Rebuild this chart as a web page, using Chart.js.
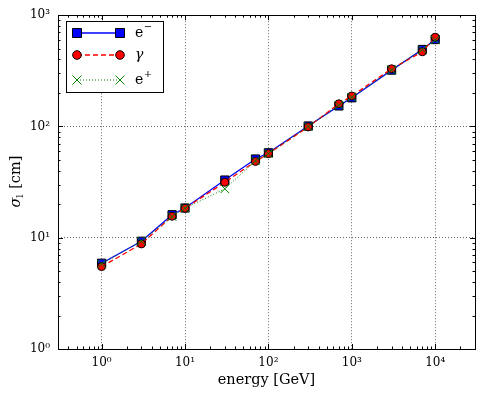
<!DOCTYPE html>
<html>
<head>
<meta charset="utf-8">
<script src="https://cdn.jsdelivr.net/npm/chart.js@4.4.0/dist/chart.umd.min.js"></script>
<style>
  html, body { margin: 0; padding: 0; background: #fff; }
  #wrap { width: 482px; height: 395px; }
</style>
</head>
<body>
<div id="wrap"><canvas id="chart"></canvas></div>
<script>
// data
const energies = [1, 3, 7, 10, 30, 70, 100, 300, 700, 1000, 3000, 7000, 10000];
const electron = [5.9, 9.3, 16.1, 18.5, 33, 51, 58, 101, 153, 181, 321, 492, 604];
const photon   = [5.5, 8.8, 15.6, 18.4, 31.5, 48.5, 57, 99, 160, 188, 330, 469, 634];
const positron = [5.8, 9.3, 15.5, 18.4, 27.5, 49, 57, 100, 155, 183, 322, 490, 600];
const xTicks = [1, 10, 100, 1000, 10000];
const yTicks = [1, 10, 100, 1000];
const legendBase = ["e", "γ", "e"];
const legendSup = ["−", "", "+"];

const SERIF = "'DejaVu Serif', serif";
const supDigits = { "0": "⁰", "1": "¹", "2": "²", "3": "³", "4": "⁴", "-": "⁻" };

function powLabel(v) {
  let e = Math.round(Math.log10(v));
  return "10" + String(e).split("").map(c => supDigits[c]).join("");
}

function pts(ys) {
  return energies.map((x, i) => ({ x: x, y: ys[i] }));
}

// frame, minor ticks, axis titles and legend
const decor = {
  id: "decor",
  afterDatasetsDraw(chart) {
    const ctx = chart.ctx;
    const a = chart.chartArea;
    const xs = chart.scales.x, ys = chart.scales.y;
    ctx.save();
    ctx.strokeStyle = "#000";
    ctx.lineWidth = 1;
    // ticks on all four sides, pointing in
    function ticksFor(scale, lo, hi, horiz) {
      for (let d = Math.floor(Math.log10(lo)); d <= Math.ceil(Math.log10(hi)); d++) {
        for (let m = 1; m < 10; m++) {
          let v = m * Math.pow(10, d);
          if (v < lo || v > hi) continue;
          let len = m == 1 ? 5 : 2.5;
          let p = Math.round(scale.getPixelForValue(v)) + 0.5;
          ctx.beginPath();
          if (horiz) {
            ctx.moveTo(p, a.bottom); ctx.lineTo(p, a.bottom - len);
            ctx.moveTo(p, a.top); ctx.lineTo(p, a.top + len);
          } else {
            ctx.moveTo(a.left, p); ctx.lineTo(a.left + len, p);
            ctx.moveTo(a.right, p); ctx.lineTo(a.right - len, p);
          }
          ctx.stroke();
        }
      }
    }
    ticksFor(xs, xs.min, xs.max, true);
    ticksFor(ys, ys.min, ys.max, false);
    ctx.strokeRect(Math.round(a.left) + 0.5, Math.round(a.top) + 0.5,
                   Math.round(a.right - a.left), Math.round(a.bottom - a.top));

    // axis titles
    ctx.fillStyle = "#000";
    ctx.font = "14.5px " + SERIF;
    ctx.textAlign = "center";
    ctx.textBaseline = "middle";
    ctx.fillText("energy [GeV]", (a.left + a.right) / 2, 380);

    ctx.save();
    ctx.translate(15, (a.top + a.bottom) / 2);
    ctx.rotate(-Math.PI / 2);
    ctx.textAlign = "left";
    ctx.textBaseline = "alphabetic";
    let w1 = ctx.measureText("σ").width;
    ctx.font = "10px " + SERIF;
    let w2 = ctx.measureText("l").width;
    ctx.font = "14.5px " + SERIF;
    let w3 = ctx.measureText(" [cm]").width;
    let x0 = -(w1 + w2 + w3) / 2;
    ctx.font = "italic 14.5px " + SERIF;
    ctx.fillText("σ", x0, 5);
    ctx.font = "10px " + SERIF;
    ctx.fillText("l", x0 + w1, 8);
    ctx.font = "14.5px " + SERIF;
    ctx.fillText(" [cm]", x0 + w1 + w2 + 1, 5);
    ctx.restore();

    // legend
    const lx = 66, ly = 21, lw = 97, lh = 71;
    ctx.fillStyle = "#fff";
    ctx.fillRect(lx, ly, lw, lh);
    ctx.strokeStyle = "#000";
    ctx.lineWidth = 1;
    ctx.strokeRect(lx + 0.5, ly + 0.5, lw, lh);
    const rows = [33, 55, 80];
    chart.data.datasets.forEach((ds, i) => {
      let y = rows[i];
      let x1 = 77, x2 = 120;
      ctx.save();
      ctx.strokeStyle = ds.borderColor;
      ctx.lineWidth = ds.borderWidth;
      ctx.setLineDash(ds.borderDash || []);
      ctx.beginPath();
      ctx.moveTo(x1, y); ctx.lineTo(x2, y);
      ctx.stroke();
      ctx.restore();
      [x1, x2].forEach(px => {
        ctx.save();
        ctx.fillStyle = ds.pointBackgroundColor;
        ctx.strokeStyle = ds.pointBorderColor;
        ctx.lineWidth = ds.pointBorderWidth;
        ctx.beginPath();
        if (ds.pointStyle == "rect") {
          ctx.rect(px - 4.5, y - 4.5, 9, 9);
          ctx.fill(); ctx.stroke();
        } else if (ds.pointStyle == "circle") {
          ctx.arc(px, y, 4.3, 0, Math.PI * 2);
          ctx.fill(); ctx.stroke();
        } else {
          ctx.moveTo(px - 4.5, y - 4.5); ctx.lineTo(px + 4.5, y + 4.5);
          ctx.moveTo(px - 4.5, y + 4.5); ctx.lineTo(px + 4.5, y - 4.5);
          ctx.stroke();
        }
        ctx.restore();
      });
      ctx.fillStyle = "#000";
      ctx.textAlign = "left";
      ctx.textBaseline = "alphabetic";
      ctx.font = (i == 1 ? "italic " : "") + "14px " + SERIF;
      ctx.fillText(legendBase[i], 135, y + 4);
      let bw = ctx.measureText(legendBase[i]).width;
      ctx.font = "10px " + SERIF;
      ctx.fillText(legendSup[i], 135 + bw + 0.5, y - 3);
    });
    ctx.restore();
  }
};

function gridStyle() {
  return {
    color: "rgba(0,0,0,0.6)",
    lineWidth: 1,
    drawTicks: false,
    borderDash: [1, 2],
    tickBorderDash: [1, 2]
  };
}
function borderStyle() {
  return { display: true, color: "rgba(0,0,0,0)", width: 0, dash: [1, 2] };
}

new Chart(document.getElementById("chart"), {
  type: "line",
  data: {
    datasets: [
      {
        label: "e−",
        data: pts(electron),
        borderColor: "#0000ff",
        borderWidth: 1.3,
        pointStyle: "rect",
        pointRadius: 5.8,
        pointBackgroundColor: "#0000ff",
        pointBorderColor: "#000",
        pointBorderWidth: 1,
        order: 3
      },
      {
        label: "γ",
        data: pts(photon),
        borderColor: "#ff0000",
        borderWidth: 1.3,
        borderDash: [5, 3],
        pointStyle: "circle",
        pointRadius: 4,
        pointBackgroundColor: "#ff0000",
        pointBorderColor: "#000",
        pointBorderWidth: 1,
        order: 2
      },
      {
        label: "e+",
        data: pts(positron),
        borderColor: "#008000",
        borderWidth: 1,
        borderDash: [1, 2],
        pointStyle: "crossRot",
        pointRadius: 6,
        pointBackgroundColor: "#008000",
        pointBorderColor: "#008000",
        pointBorderWidth: 1,
        order: 1
      }
    ]
  },
  options: {
    responsive: true,
    maintainAspectRatio: false,
    animation: false,
    layout: { padding: { left: 0, right: 6, top: 14, bottom: 0 } },
    plugins: {
      legend: { display: false },
      tooltip: { enabled: false }
    },
    scales: {
      x: {
        type: "logarithmic",
        min: 0.3,
        max: 30000,
        afterBuildTicks: s => { s.ticks = xTicks.map(v => ({ value: v })); },
        afterFit: s => { s.height = 46; },
        grid: gridStyle(),
        border: borderStyle(),
        ticks: {
          color: "#000",
          font: { family: SERIF, size: 12 },
          padding: 7,
          maxRotation: 0,
          autoSkip: false,
          callback: v => powLabel(v)
        }
      },
      y: {
        type: "logarithmic",
        min: 1,
        max: 1000,
        afterBuildTicks: s => { s.ticks = yTicks.map(v => ({ value: v })); },
        afterFit: s => { s.width = 58; },
        grid: gridStyle(),
        border: borderStyle(),
        ticks: {
          color: "#000",
          font: { family: SERIF, size: 12 },
          padding: 8,
          autoSkip: false,
          callback: v => powLabel(v)
        }
      }
    }
  },
  plugins: [decor]
});
</script>
</body>
</html>
